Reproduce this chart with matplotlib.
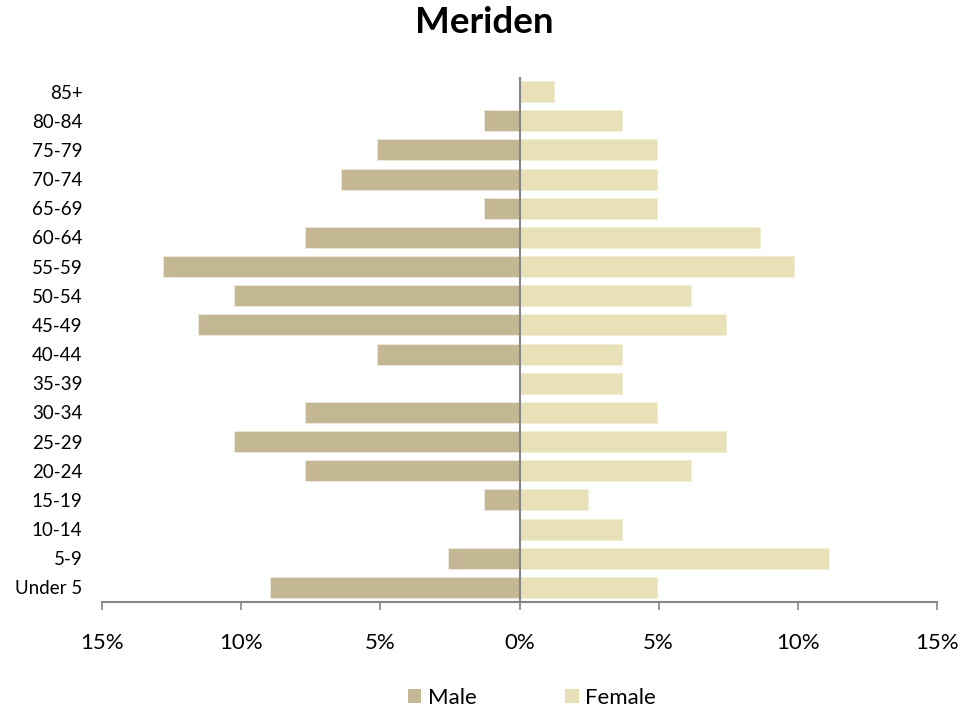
import matplotlib
matplotlib.use("Agg")
import matplotlib.pyplot as plt
from matplotlib.ticker import FuncFormatter
from matplotlib.patches import Patch

plt.rcParams['font.family'] = ['Lato', 'DejaVu Sans']

age_groups = ["Under 5", "5-9", "10-14", "15-19", "20-24", "25-29", "30-34", "35-39",
              "40-44", "45-49", "50-54", "55-59", "60-64", "65-69", "70-74", "75-79",
              "80-84", "85+"]
male_pct = [8.97, 2.56, 0.0, 1.28, 7.69, 10.26, 7.69, 0.0,
            5.13, 11.54, 10.26, 12.82, 7.69, 1.28, 6.41, 5.13,
            1.28, 0.0]
female_pct = [4.94, 11.11, 3.70, 2.47, 6.17, 7.41, 4.94, 3.70,
              3.70, 7.41, 6.17, 9.88, 8.64, 4.94, 4.94, 4.94,
              3.70, 1.23]
x_ticks = [-15, -10, -5, 0, 5, 10, 15]

male_color = "#C4B794"
female_color = "#E8E1B7"
axis_color = "#868686"

fig = plt.figure(figsize=(9.79, 7.13), dpi=100)
ax = fig.add_axes([102/979, 1 - 602/713, (937-102)/979, (602-77)/713])

y = list(range(len(age_groups)))
ax.barh(y, [-v for v in male_pct], height=0.72, color=male_color,
        edgecolor="#EFEADB", linewidth=0.6, label="Male", zorder=2)
ax.barh(y, female_pct, height=0.72, color=female_color,
        edgecolor="#F3EFD6", linewidth=0.6, label="Female", zorder=2)

ax.set_xlim(-15, 15)
ax.set_ylim(-0.5, len(age_groups) - 0.5)
ax.set_xticks(x_ticks)
ax.xaxis.set_major_formatter(FuncFormatter(lambda v, p: f"{abs(int(round(v)))}%"))
ax.set_yticks(y)
ax.set_yticklabels(age_groups)

for s in ["top", "right", "left"]:
    ax.spines[s].set_visible(False)
ax.spines["bottom"].set_color(axis_color)
ax.spines["bottom"].set_linewidth(1.5)
ax.axvline(0, color=axis_color, linewidth=1.5, zorder=3)

ax.tick_params(axis="x", direction="out", length=6, width=1.2, color=axis_color,
               labelsize=16, pad=16, labelcolor="black")
ax.tick_params(axis="y", length=0, labelsize=13.5, pad=14, labelcolor="black")

fig.suptitle("Meriden", fontsize=26.5, fontweight="bold", x=484/979, y=1 - 6/713, va="top")

handles = [Patch(facecolor=male_color, label="Male"),
           Patch(facecolor=female_color, label="Female")]
fig.legend(handles=handles, loc="center", bbox_to_anchor=(532/979, 1 - 698/713),
           ncol=2, frameon=False, fontsize=16, handlelength=0.6, handleheight=0.6,
           handletextpad=0.3, columnspacing=4.0)

fig.savefig("out.png", dpi=100, facecolor="white")
